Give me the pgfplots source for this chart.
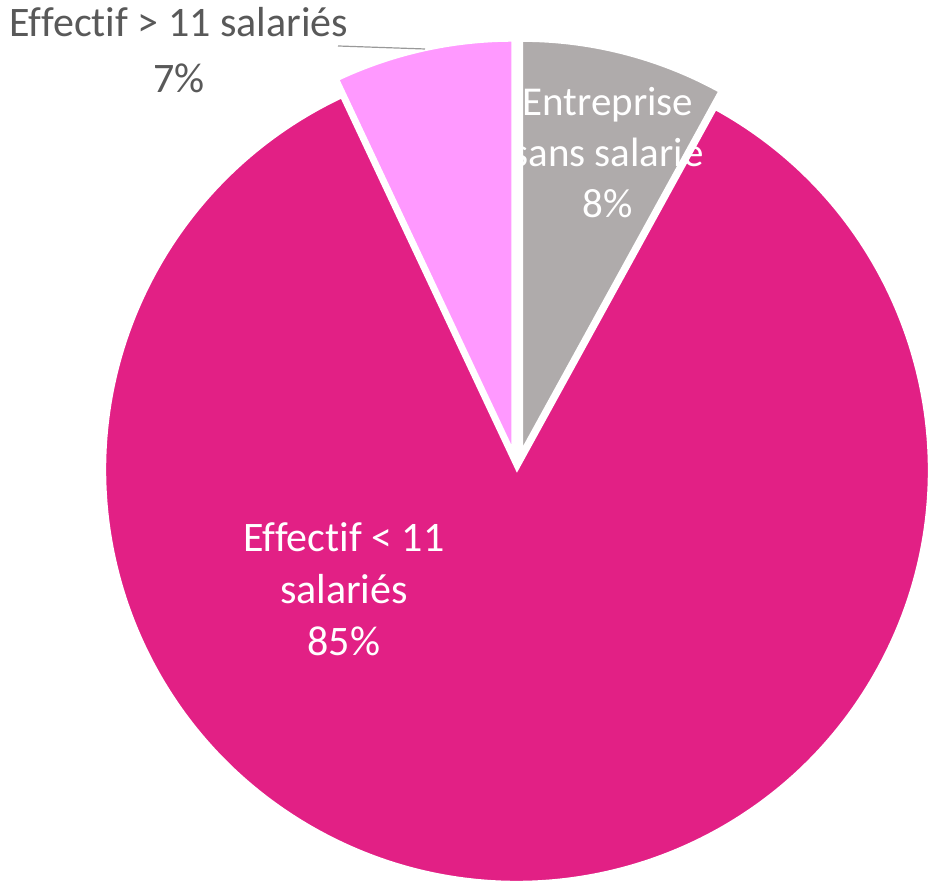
\documentclass[border=0pt]{standalone}
\usepackage{pgfplots}
\pgfplotsset{compat=1.18}
\usepackage{pgfplotstable}
\usepackage{fontspec}
\setmainfont[Ligatures=NoCommon]{Carlito}
\definecolor{bigpink}{RGB}{226,32,133}
\definecolor{ltpink}{RGB}{255,153,255}
\definecolor{slgray}{RGB}{175,171,171}
\definecolor{lblgray}{RGB}{89,89,89}
\pgfplotstableread{
name value
sans 8
petit 85
grand 7
}\piedata
\begin{document}
\begin{tikzpicture}
\pgfplotstablegetelem{0}{value}\of\piedata \let\va\pgfplotsretval
\pgfplotstablegetelem{1}{value}\of\piedata \let\vb\pgfplotsretval
\pgfplotstablegetelem{2}{value}\of\piedata \let\vc\pgfplotsretval
\pgfmathsetmacro\tot{\va+\vb+\vc}
\pgfmathsetmacro\aA{90-360*\va/\tot}
\pgfmathsetmacro\aC{90+360*\vc/\tot}
\pgfmathsetmacro\aB{\aC-360}
\pgfmathsetmacro\mA{(90+\aA)/2}
\pgfmathsetmacro\mC{(90+\aC)/2}
\begin{axis}[x=1pt,y=1pt,xmin=0,xmax=934,ymin=0,ymax=885,hide axis,clip=false,scale only axis,anchor=origin,at={(0,0)}]
\filldraw[bigpink,draw=white,line width=2.5pt] (axis cs:517,415) -- ++(\aA:412pt) arc[start angle=\aA,end angle=\aB,radius=412pt] -- cycle;
\filldraw[slgray,draw=white,line width=2.5pt] (axis cs:517,415) ++(\mA:20pt) -- ++(90:410pt) arc[start angle=90,end angle=\aA,radius=410pt] -- cycle;
\filldraw[ltpink,draw=white,line width=2.5pt] (axis cs:517,415) ++(\mC:20pt) -- ++(90:410pt) arc[start angle=90,end angle=\aC,radius=410pt] -- cycle;
\draw[black!40, line width=1.2pt] (axis cs:338,839) -- (axis cs:425,836);
\node[text=white,align=center,inner sep=0pt,font=\fontsize{41}{51}\selectfont] at (axis cs:608,732) {Entreprise\\sans salarié\\8\%};
\node[text=white,align=center,inner sep=0pt,font=\fontsize{42}{52}\selectfont] at (axis cs:344,296) {Effectif < 11\\salariés\\85\%};
\node[text=lblgray,align=center,inner sep=0pt,font=\fontsize{42}{56}\selectfont] at (axis cs:179,835) {Effectif > 11 salariés\\7\%};
\end{axis}
\pgfresetboundingbox
\path[use as bounding box] (0,0) rectangle (934pt,885pt);
\end{tikzpicture}
\end{document}
